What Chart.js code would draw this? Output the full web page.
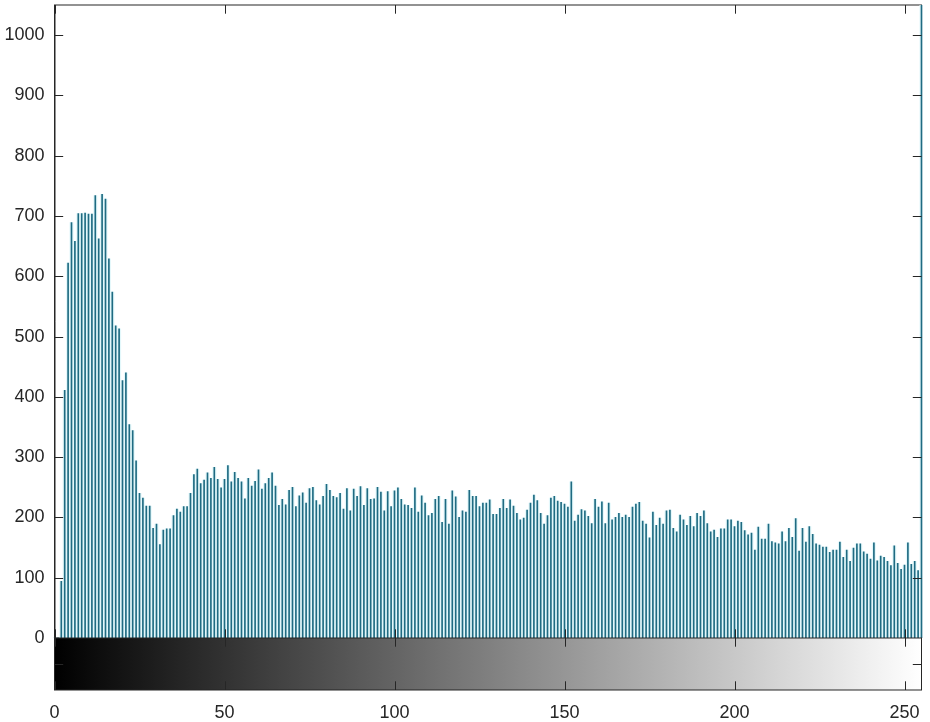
<!DOCTYPE html>
<html>
<head>
<meta charset="utf-8">
<title>Histogram</title>
<script src="https://cdn.jsdelivr.net/npm/chart.js@4.4.1/dist/chart.umd.min.js"></script>
<style>
  html, body { margin: 0; padding: 0; background: #ffffff; }
  #wrap { width: 930px; height: 722px; }
</style>
</head>
<body>
<div id="wrap"><canvas id="hist" width="930" height="722"></canvas></div>
<script>
// Grey levels (x categories)
const greyLevels = Array.from({ length: 256 }, (_, i) => i);

// Pixel counts per grey level
const pixelCounts = [
  0, 0, 94, 411, 622, 689, 658, 704, 704, 705,
  703, 703, 734, 662, 736, 728, 629, 574, 518, 513,
  427, 440, 354, 344, 294, 240, 232, 219, 219, 182,
  189, 155, 179, 181, 181, 203, 214, 209, 218, 218,
  240, 271, 280, 256, 262, 274, 265, 283, 263, 249,
  263, 286, 259, 275, 265, 259, 231, 265, 252, 260,
  279, 247, 256, 265, 274, 252, 220, 230, 221, 245,
  250, 218, 236, 241, 224, 248, 250, 228, 221, 235,
  255, 245, 235, 233, 240, 214, 248, 211, 247, 235,
  251, 220, 248, 230, 231, 250, 242, 211, 243, 218,
  244, 249, 230, 221, 220, 215, 249, 209, 236, 224,
  203, 207, 230, 235, 192, 230, 189, 244, 234, 200,
  211, 209, 245, 235, 235, 218, 224, 224, 229, 205,
  205, 215, 230, 215, 229, 219, 207, 196, 199, 212,
  224, 237, 228, 207, 189, 203, 232, 235, 227, 225,
  222, 217, 259, 194, 204, 213, 211, 202, 190, 230,
  217, 226, 190, 224, 196, 200, 207, 200, 204, 200,
  217, 222, 225, 194, 189, 166, 209, 187, 199, 189,
  211, 212, 182, 176, 204, 196, 187, 202, 185, 207,
  202, 211, 190, 176, 179, 167, 181, 181, 196, 196,
  185, 194, 192, 178, 171, 174, 146, 184, 164, 164,
  189, 160, 158, 156, 176, 160, 182, 167, 198, 144,
  182, 159, 185, 172, 156, 154, 151, 151, 142, 146,
  146, 159, 134, 146, 127, 149, 156, 156, 143, 139,
  131, 158, 128, 136, 134, 127, 120, 153, 124, 114,
  121, 158, 122, 127, 112, 1200
];

// Tick values
const xTickValues = [0, 50, 100, 150, 200, 250];
const yTickValues = [0, 100, 200, 300, 400, 500, 600, 700, 800, 900, 1000];

const axisColor = '#262626';
const stemColor = '#1f6b82';
const haloColor = '#e3f8fb';
const tickLen = 8.7;
const barStripHeight = 52;

Chart.defaults.font.family = "'Liberation Sans', Arial, Helvetica, sans-serif";
Chart.defaults.font.size = 18;
Chart.defaults.color = axisColor;

// Axes box, inward ticks and grey colour strip, MATLAB style
const framePlugin = {
  id: 'frame',
  beforeDatasetsDraw(chart) {
    const { ctx, chartArea: a } = chart;
    ctx.save();
    ctx.strokeStyle = axisColor;
    ctx.lineWidth = 1;
    ctx.strokeRect(a.left, a.top, a.right - a.left, a.bottom - a.top);
    ctx.restore();
  },
  afterDatasetsDraw(chart) {
    const { ctx, chartArea: a, scales } = chart;
    ctx.save();
    ctx.strokeStyle = axisColor;
    ctx.lineWidth = 1;
    ctx.beginPath();
    ctx.moveTo(a.left + 0.5, a.top); ctx.lineTo(a.left + 0.5, a.bottom);
    ctx.moveTo(a.left, a.bottom + 0.5); ctx.lineTo(a.right, a.bottom + 0.5);
    yTickValues.forEach(v => {
      const y = Math.round(scales.y.getPixelForValue(v)) + 0.5;
      ctx.moveTo(a.left, y); ctx.lineTo(a.left + tickLen, y);
      ctx.moveTo(a.right - tickLen, y); ctx.lineTo(a.right, y);
    });
    xTickValues.forEach(v => {
      const x = Math.round(scales.x.getPixelForValue(v)) + 0.5;
      ctx.moveTo(x, a.top); ctx.lineTo(x, a.top + tickLen);
      ctx.moveTo(x, a.bottom); ctx.lineTo(x, a.bottom - tickLen);
    });
    ctx.stroke();
    ctx.restore();
  },
  afterDraw(chart) {
    const { ctx, chartArea: a, scales } = chart;
    const x0 = scales.x.getPixelForValue(0);
    const x1 = scales.x.getPixelForValue(255);
    const top = a.bottom;
    const bottom = a.bottom + barStripHeight;
    ctx.save();
    const grad = ctx.createLinearGradient(x0, 0, x1, 0);
    grad.addColorStop(0, '#000000');
    grad.addColorStop(1, '#ffffff');
    ctx.fillStyle = grad;
    ctx.fillRect(x0, top, x1 - x0, bottom - top);
    ctx.strokeStyle = axisColor;
    ctx.lineWidth = 1;
    ctx.strokeRect(a.left, top, a.right - a.left, bottom - top);
    ctx.beginPath();
    xTickValues.forEach(v => {
      const x = Math.round(scales.x.getPixelForValue(v)) + 0.5;
      ctx.moveTo(x, top); ctx.lineTo(x, top + tickLen);
      ctx.moveTo(x, bottom); ctx.lineTo(x, bottom - tickLen);
    });
    const mid = Math.round((top + bottom) / 2) + 0.5;
    ctx.moveTo(a.left, mid); ctx.lineTo(a.left + tickLen, mid);
    ctx.moveTo(a.right - tickLen, mid); ctx.lineTo(a.right, mid);
    ctx.stroke();
    ctx.restore();
  }
};

const ctx = document.getElementById('hist').getContext('2d');
const points = greyLevels.map((g, i) => ({ x: g, y: pixelCounts[i] }));

new Chart(ctx, {
  type: 'bar',
  data: {
    datasets: [
      {
        label: 'Counts',
        data: points,
        backgroundColor: stemColor,
        borderWidth: 0,
        barThickness: 1,
        grouped: false,
        order: 1,
        clip: { left: 2, right: 2, top: 0, bottom: 0 }
      },
      {
        label: 'Halo',
        data: points,
        backgroundColor: haloColor,
        borderWidth: 0,
        barThickness: 3.4,
        grouped: false,
        order: 2,
        clip: { left: 0, right: 0, top: 0, bottom: 0 }
      }
    ]
  },
  options: {
    responsive: false,
    animation: false,
    layout: { padding: { top: 5, right: 8.5, bottom: 0, left: 0 } },
    plugins: {
      legend: { display: false },
      tooltip: { enabled: false }
    },
    scales: {
      x: {
        type: 'linear',
        min: 0,
        max: 255,
        offset: false,
        grid: { display: false, offset: false },
        border: { display: false },
        ticks: {
          stepSize: 50,
          includeBounds: false,
          padding: 56,
          maxRotation: 0,
          callback: v => String(v)
        },
        afterFit(scale) {
          scale.height = 84;
          scale.paddingLeft = 0;
          scale.paddingRight = 0;
        }
      },
      y: {
        min: 0,
        max: 1050,
        grid: { display: false },
        border: { display: false },
        ticks: {
          stepSize: 100,
          includeBounds: false,
          padding: 2,
          callback: v => String(v)
        },
        afterFit(scale) {
          scale.width = 54.5;
          scale.paddingTop = 0;
          scale.paddingBottom = 0;
        }
      }
    }
  },
  plugins: [framePlugin]
});
</script>
</body>
</html>
